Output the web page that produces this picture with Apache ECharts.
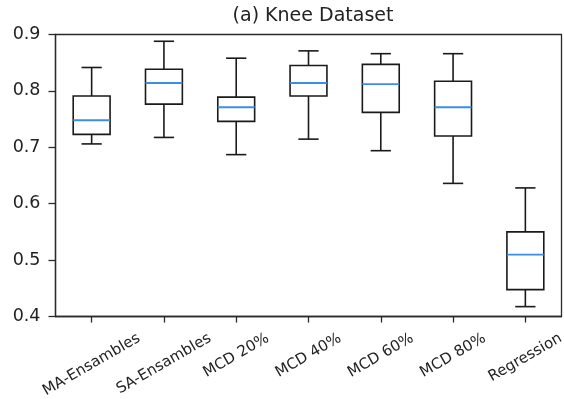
<!DOCTYPE html>
<html>
<head>
<meta charset="utf-8">
<script src="https://cdn.jsdelivr.net/npm/echarts@6/dist/echarts.min.js"></script>
<style>
  html, body { margin: 0; padding: 0; background: #fff; }
  #chart { width: 564px; height: 399px; }
</style>
</head>
<body>
<div id="chart"></div>
<script>
const categories = ['MA-Ensambles', 'SA-Ensambles', 'MCD 20%', 'MCD 40%', 'MCD 60%', 'MCD 80%', 'Regression'];
const lowWhisker = [0.706, 0.7175, 0.687, 0.7145, 0.694, 0.636, 0.4175];
const q1 = [0.723, 0.7765, 0.746, 0.791, 0.762, 0.720, 0.4476];
const median = [0.748, 0.814, 0.771, 0.814, 0.812, 0.771, 0.5096];
const q3 = [0.791, 0.8385, 0.789, 0.845, 0.847, 0.817, 0.550];
const highWhisker = [0.8415, 0.888, 0.858, 0.871, 0.866, 0.866, 0.628];

const yMin = 0.4, yMax = 0.9, yStep = 0.1;

const FONT = 'DejaVu Sans';
const INK = '#222';
const LABEL_SIZE = 15;

// matplotlib centres rotated labels on the tick with a common top edge,
// so longer labels sit lower: shift them down with rich-text padding
const ctx = document.createElement('canvas').getContext('2d');
ctx.font = LABEL_SIZE + 'px "' + FONT + '"';
const widths = categories.map(c => ctx.measureText(c).width);
const minW = Math.min(...widths);
const labelRich = {};
categories.forEach((c, i) => {
    const d = (widths[i] - minW) / 4;
    labelRich['s' + i] = {
        fontFamily: FONT,
        fontSize: LABEL_SIZE,
        color: INK,
        padding: [d * 1.732, d, 0, 0]
    };
});

const boxData = categories.map((c, i) => [i, lowWhisker[i], q1[i], median[i], q3[i], highWhisker[i]]);

function renderBox(params, api) {
    const x = api.value(0);
    const lo = api.coord([x, api.value(1)]);
    const b1 = api.coord([x, api.value(2)]);
    const md = api.coord([x, api.value(3)]);
    const b3 = api.coord([x, api.value(4)]);
    const hi = api.coord([x, api.value(5)]);
    const band = api.size([1, 0])[0];
    const hw = band * 0.255;
    const cw = band * 0.14;
    const cx = lo[0];
    const black = { stroke: '#1a1a1a', lineWidth: 1.6 };
    return {
        type: 'group',
        children: [
            { type: 'line', shape: { x1: cx, y1: hi[1], x2: cx, y2: b3[1] }, style: black },
            { type: 'line', shape: { x1: cx, y1: b1[1], x2: cx, y2: lo[1] }, style: black },
            { type: 'line', shape: { x1: cx - cw, y1: hi[1], x2: cx + cw, y2: hi[1] }, style: black },
            { type: 'line', shape: { x1: cx - cw, y1: lo[1], x2: cx + cw, y2: lo[1] }, style: black },
            { type: 'rect', shape: { x: cx - hw, y: b3[1], width: hw * 2, height: b1[1] - b3[1] },
              style: { fill: '#fff', stroke: '#1a1a1a', lineWidth: 1.6 } },
            { type: 'line', shape: { x1: cx - hw, y1: md[1], x2: cx + hw, y2: md[1] },
              style: { stroke: '#3a8ee6', lineWidth: 1.8 } }
        ]
    };
}

const myChart = echarts.init(document.getElementById('chart'));
const option = {
    backgroundColor: '#fff',
    animation: false,
    title: {
        text: '(a) Knee Dataset',
        left: 313,
        top: 7,
        padding: 0,
        textAlign: 'center',
        textStyle: { fontFamily: FONT, fontSize: 19, fontWeight: 'normal', color: INK }
    },
    grid: {
        left: 55.5,
        right: 2.5,
        top: 34.5,
        bottom: 82.5,
        outerBoundsMode: 'none',
        containLabel: false,
        show: true,
        borderColor: '#2a2a2a',
        borderWidth: 1.3,
        backgroundColor: 'transparent'
    },
    xAxis: {
        type: 'category',
        data: categories,
        boundaryGap: true,
        axisLine: { show: true, lineStyle: { color: '#2a2a2a', width: 1.3 } },
        axisTick: { show: true, alignWithLabel: true, length: 6, lineStyle: { color: '#2a2a2a', width: 1.3 } },
        axisLabel: {
            interval: 0,
            rotate: 30,
            align: 'center',
            verticalAlign: 'middle',
            margin: 39,
            fontFamily: FONT,
            fontSize: LABEL_SIZE,
            color: INK,
            formatter: (v, i) => '{s' + i + '|' + v + '}',
            rich: labelRich
        },
        splitLine: { show: false }
    },
    yAxis: {
        type: 'value',
        min: yMin,
        max: yMax,
        interval: yStep,
        axisLine: { show: true, lineStyle: { color: '#2a2a2a', width: 1.3 } },
        axisTick: { show: true, length: 7, lineStyle: { color: '#2a2a2a', width: 1.3 } },
        axisLabel: {
            margin: 15,
            fontFamily: FONT,
            fontSize: 17.5,
            color: INK,
            formatter: v => v.toFixed(1)
        },
        splitLine: { show: false }
    },
    series: [
        {
            type: 'custom',
            renderItem: renderBox,
            encode: { x: 0, y: [1, 2, 3, 4, 5] },
            data: boxData,
            clip: false
        }
    ]
};
myChart.setOption(option);
window.addEventListener('resize', function () {
    myChart.resize();
});
</script>
</body>
</html>
